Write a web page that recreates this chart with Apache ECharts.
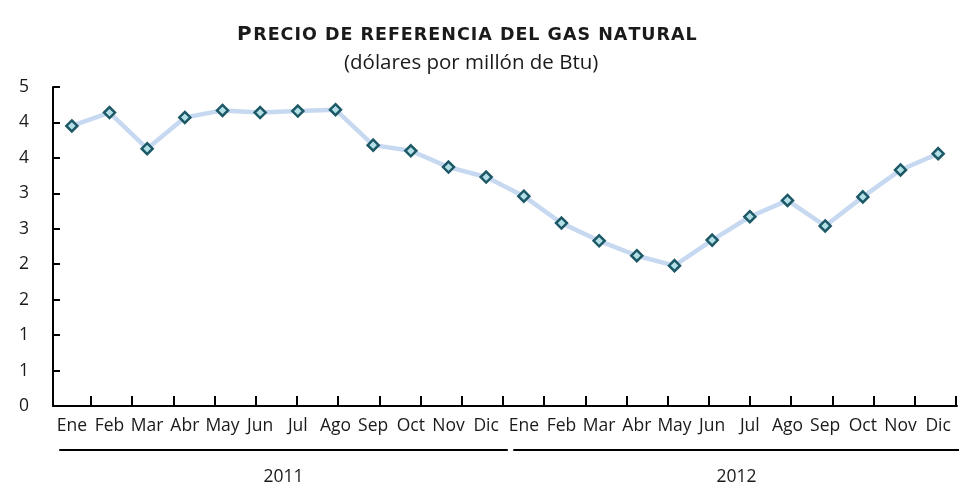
<!DOCTYPE html>
<html>
<head>
<meta charset="utf-8">
<script src="https://cdn.jsdelivr.net/npm/echarts@6/dist/echarts.min.js"></script>
<style>
  html, body { margin: 0; padding: 0; background: #fff; }
  #chart { width: 959px; height: 486px; }
</style>
</head>
<body>
<div id="chart"></div>
<script>
const months = ['Ene', 'Feb', 'Mar', 'Abr', 'May', 'Jun', 'Jul', 'Ago', 'Sep', 'Oct', 'Nov', 'Dic',
  'Ene', 'Feb', 'Mar', 'Abr', 'May', 'Jun', 'Jul', 'Ago', 'Sep', 'Oct', 'Nov', 'Dic']
const years = ['2011', '2012']
// precio, dolares por millon de Btu
const precio = [3.95, 4.14, 3.63, 4.07, 4.17, 4.14, 4.16, 4.18, 3.68, 3.60, 3.37, 3.23,
  2.96, 2.58, 2.33, 2.12, 1.98, 2.34, 2.67, 2.90, 2.54, 2.95, 3.33, 3.56]

const titulo = 'Precio de referencia del gas natural'
const subtitulo = '(dólares por millón de Btu)'

const font = 'Open Sans'
const ink = '#1a1a1a'

// versalitas: primera letra grande, el resto en mayusculas chicas con algo de espaciado
function smallCaps(s) {
  let out = '{a|' + s[0].toUpperCase() + '}'
  for (const ch of s.slice(1)) {
    out += '{b|' + ch.toUpperCase() + '}'
  }
  return out
}

const chart = echarts.init(document.getElementById('chart'))

const hiddenY = (gridIndex) => ({ type: 'value', gridIndex: gridIndex, show: false })

chart.setOption({
  animation: false,
  textStyle: { fontFamily: font, color: ink },
  title: [
    {
      text: smallCaps(titulo),
      left: 232,
      top: 20,
      textStyle: {
        rich: {
          a: { fontFamily: 'DejaVu Sans', fontSize: 20, fontWeight: 'bold', color: ink, padding: [0, 1, 0, 0] },
          b: { fontFamily: 'DejaVu Sans', fontSize: 17.5, fontWeight: 'bold', color: ink, padding: [0, 0.5, 0, 0.5] }
        }
      }
    },
    {
      text: subtitulo,
      left: 339,
      top: 48,
      textStyle: { fontFamily: font, fontSize: 20.5, fontWeight: 'normal', color: ink }
    }
  ],
  grid: [
    { left: 53, right: 2, top: 87, bottom: 80 },   // main plot
    { left: 91, right: 3, top: 87, bottom: 80 },   // tick marks
    { left: 60, right: 452, top: 440, bottom: 34 }, // 2011
    { left: 514, right: 0, top: 440, bottom: 34 }   // 2012
  ],
  xAxis: [
    {
      type: 'category',
      gridIndex: 0,
      data: months,
      boundaryGap: true,
      axisLine: { lineStyle: { color: '#000', width: 2 } },
      axisTick: { show: false },
      axisLabel: { interval: 0, fontSize: 17.5, color: ink, margin: 11 }
    },
    {
      type: 'value',
      gridIndex: 1,
      min: 1,
      max: 22,
      interval: 1,
      axisLine: { show: false },
      axisTick: { show: true, inside: true, length: 10, lineStyle: { color: '#000', width: 2 } },
      axisLabel: { show: false },
      splitLine: { show: false }
    },
    {
      type: 'category',
      gridIndex: 2,
      data: [years[0]],
      axisLine: { lineStyle: { color: '#000', width: 2 } },
      axisTick: { show: false },
      axisLabel: { fontSize: 17.5, color: ink, margin: 18 }
    },
    {
      type: 'category',
      gridIndex: 3,
      data: [years[1]],
      axisLine: { lineStyle: { color: '#000', width: 2 } },
      axisTick: { show: false },
      axisLabel: { fontSize: 17.5, color: ink, margin: 18 }
    }
  ],
  yAxis: [
    {
      type: 'value',
      gridIndex: 0,
      min: 0,
      max: 4.5,
      interval: 0.5,
      axisLine: { show: true, lineStyle: { color: '#000', width: 2 } },
      axisTick: { show: true, inside: true, length: 7, lineStyle: { color: '#000', width: 2 } },
      axisLabel: { fontSize: 17.5, color: ink, margin: 24, formatter: (v) => String(Math.round(v)) },
      splitLine: { show: false }
    },
    hiddenY(1),
    hiddenY(2),
    hiddenY(3)
  ],
  series: [
    {
      name: 'Precio',
      type: 'line',
      xAxisIndex: 0,
      yAxisIndex: 0,
      data: precio,
      lineStyle: { color: '#c6d9f1', width: 4.5 },
      symbol: 'diamond',
      symbolSize: 11,
      itemStyle: { color: '#b3dfe7', borderColor: '#1d5866', borderWidth: 2.5 }
    }
  ]
})
</script>
</body>
</html>
